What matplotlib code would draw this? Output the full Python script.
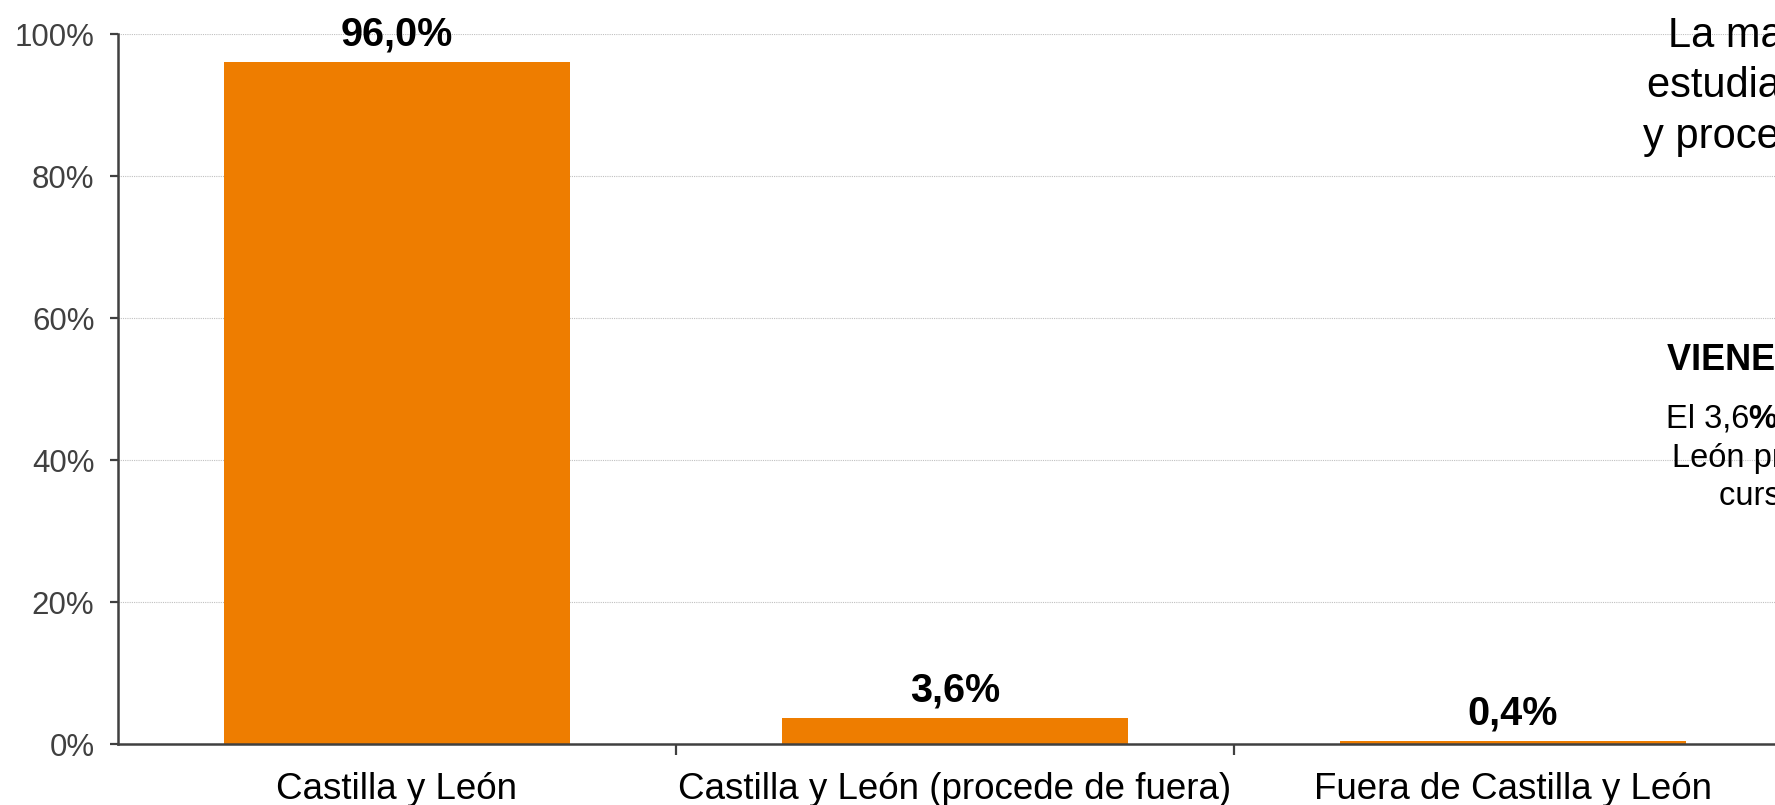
import matplotlib
matplotlib.use("Agg")
import matplotlib.pyplot as plt
from matplotlib.ticker import FixedLocator, FuncFormatter

categories = ["Castilla y León", "Castilla y León (procede de fuera)", "Fuera de Castilla y León"]
values = [96.0, 3.6, 0.4]
value_labels = ["96,0%", "3,6%", "0,4%"]
yticks = [0, 20, 40, 60, 80, 100]

plt.rcParams['font.family'] = ['Liberation Sans', 'DejaVu Sans']

W, H = 1775, 805
fig = plt.figure(figsize=(W / 100, H / 100), dpi=100)
ax = fig.add_axes([118 / W, 61 / H, 1 - 118 / W, (744 - 34) / H])

bar_color = "#EE7D00"
xs = list(range(len(categories)))
bars = ax.bar(xs, values, width=0.62, color=bar_color, zorder=3)

for x, v, lab in zip(xs, values, value_labels):
    ax.annotate(lab, (x, v), xytext=(0, 12), textcoords="offset points",
                ha="center", va="baseline", fontsize=28.5, fontweight="bold", color="black")

ax.set_xlim(-0.5, -0.5 + (W - 118) / 558)
ax.set_ylim(0, 100)

ax.yaxis.set_major_locator(FixedLocator(yticks))
ax.yaxis.set_major_formatter(FuncFormatter(lambda v, p: f"{int(v)}%"))
ax.grid(axis="y", color="#c0c0c0", linestyle=(0, (1, 1)), linewidth=0.8, zorder=0)

ax.set_xticks([x for x in xs])
ax.set_xticklabels(categories)
ax.xaxis.set_minor_locator(FixedLocator([0.5, 1.5, 2.5]))
ax.tick_params(axis="x", which="major", length=0, pad=20, labelsize=26.5, labelcolor="black")
ax.tick_params(axis="x", which="minor", length=8, width=1.6, color="#404040", direction="out")
ax.tick_params(axis="y", length=6, width=1.6, color="#404040", pad=11, labelsize=22.5, labelcolor="#404040")

for s in ["top", "right"]:
    ax.spines[s].set_visible(False)
for s in ["left", "bottom"]:
    ax.spines[s].set_color("#404040")
    ax.spines[s].set_linewidth(1.8)
    ax.spines[s].set_zorder(4)

# Side commentary (cut off at the figure edge as in the reference)
def fig_text(x, y, s, **kw):
    return fig.text(x / W, 1 - y / H, s, ha="left", va="baseline", color="black", **kw)

fig_text(1668, 47, "La mayoría de los", fontsize=30)
fig_text(1647, 97, "estudiantes de la Universidad", fontsize=30)
fig_text(1643, 148, "y procede de la región", fontsize=30)

fig_text(1667, 370, "VIENEN DE FUERA", fontsize=26, fontweight="bold")
t1 = fig_text(1666, 428, "El 3,6", fontsize=23.5)
fig.canvas.draw()
ax.annotate("% de los estudiantes de Castilla y", xy=(1, 0), xycoords=t1,
            ha="left", va="bottom", fontsize=23.5, fontweight="bold", color="black",
            annotation_clip=False)
fig_text(1672, 467, "León procede de fuera para", fontsize=23.5)
fig_text(1719, 505, "cursar sus estudios", fontsize=23.5)

fig.savefig("out.png", dpi=100)
